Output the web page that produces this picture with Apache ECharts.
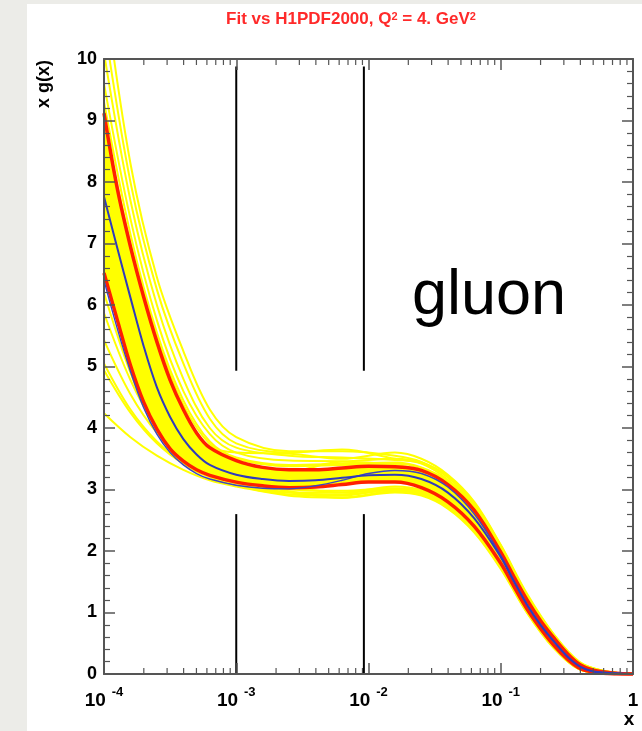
<!DOCTYPE html>
<html><head><meta charset="utf-8">
<script src="https://cdn.jsdelivr.net/npm/echarts@6/dist/echarts.min.js"></script>
<style>html,body{margin:0;padding:0;background:#fff}#c{width:642px;height:731px}</style>
</head><body><div id="c"></div>
<script>
// x positions are log10(x)
const log10x = [-4, -3.9, -3.8, -3.7, -3.6, -3.5, -3.4, -3.3, -3.2, -3.0, -2.8, -2.6, -2.4, -2.2, -2.0, -1.8, -1.6, -1.4, -1.2, -1.0, -0.9, -0.8, -0.7, -0.6, -0.5, -0.4, -0.3, -0.2, -0.1, 0];
const centralFit = [7.76, 6.93, 6.12, 5.33, 4.66, 4.18, 3.82, 3.57, 3.40, 3.24, 3.17, 3.14, 3.15, 3.19, 3.23, 3.24, 3.17, 2.95, 2.53, 1.90, 1.50, 1.12, 0.80, 0.53, 0.29, 0.12, 0.04, 0.02, 0.01, 0];
const errUpper   = [9.12, 7.90, 6.95, 6.13, 5.40, 4.78, 4.30, 3.92, 3.68, 3.47, 3.36, 3.32, 3.32, 3.35, 3.38, 3.37, 3.31, 3.08, 2.66, 1.98, 1.58, 1.20, 0.87, 0.59, 0.34, 0.15, 0.06, 0.03, 0.01, 0];
const errLower   = [6.52, 5.76, 5.02, 4.42, 3.98, 3.66, 3.46, 3.32, 3.23, 3.12, 3.06, 3.03, 3.04, 3.08, 3.12, 3.12, 3.03, 2.80, 2.40, 1.80, 1.42, 1.05, 0.74, 0.47, 0.25, 0.09, 0.03, 0.01, 0, 0];
const h1pdf2000  = [6.40, 5.62, 4.92, 4.33, 3.90, 3.60, 3.40, 3.26, 3.17, 3.07, 3.02, 3.01, 3.06, 3.15, 3.26, 3.31, 3.26, 3.04, 2.60, 1.93, 1.52, 1.13, 0.81, 0.54, 0.30, 0.12, 0.04, 0.02, 0.01, 0];

// replica curves (yellow)
const replicaLog10x = [-4, -3.8, -3.6, -3.4, -3.2, -3.0, -2.6, -2.2, -1.8, -1.6, -1.4, -1.2, -1.0, -0.8, -0.6, -0.4, -0.2, 0];
const repA1 = [11.2, 8.3, 6.45, 5.25, 4.3, 3.85, 3.62, 3.62, 3.55, 3.45, 3.2, 2.76, 2.07, 1.27, 0.64, 0.18, 0.04, 0];
const repA2 = [10.6, 8.0, 6.25, 5.05, 4.15, 3.75, 3.6, 3.65, 3.5, 3.42, 3.16, 2.74, 2.05, 1.25, 0.63, 0.17, 0.04, 0];
const repA3 = [10.1, 7.7, 6.0, 4.8, 4.0, 3.68, 3.55, 3.52, 3.48, 3.43, 3.2, 2.77, 2.08, 1.28, 0.64, 0.18, 0.04, 0];
const repA4 = [9.6, 7.4, 5.75, 4.6, 3.9, 3.6, 3.47, 3.46, 3.5, 3.44, 3.22, 2.78, 2.09, 1.26, 0.62, 0.16, 0.03, 0];
const repA5 = [9.3, 7.15, 5.55, 4.45, 3.78, 3.52, 3.4, 3.42, 3.44, 3.36, 3.14, 2.72, 2.03, 1.24, 0.61, 0.16, 0.03, 0];
const repA6 = [9.0, 7.0, 5.48, 4.38, 3.74, 3.5, 3.38, 3.4, 3.42, 3.35, 3.12, 2.7, 2.02, 1.23, 0.6, 0.16, 0.03, 0];
const repC1 = [8.5, 6.6, 5.1, 4.1, 3.7, 3.6, 3.58, 3.5, 3.6, 3.5, 3.24, 2.8, 2.1, 1.3, 0.65, 0.19, 0.04, 0];
const repC2 = [7.0, 5.6, 4.4, 3.7, 3.35, 3.18, 3.05, 2.95, 3.0, 2.95, 2.74, 2.36, 1.76, 1.02, 0.45, 0.08, 0.01, 0];
const repD1 = [8.0, 6.3, 4.9, 3.95, 3.5, 3.35, 3.3, 3.45, 3.4, 3.3, 3.05, 2.6, 1.95, 1.16, 0.56, 0.13, 0.02, 0];
const repD2 = [7.3, 5.75, 4.45, 3.7, 3.35, 3.2, 3.12, 3.1, 3.2, 3.15, 2.92, 2.5, 1.86, 1.09, 0.5, 0.1, 0.02, 0];
const repB1 = [4.24, 3.85, 3.55, 3.32, 3.15, 3.05, 2.9, 2.87, 2.97, 2.92, 2.7, 2.32, 1.73, 1.0, 0.43, 0.07, 0.01, 0];
const repB2 = [4.94, 4.25, 3.75, 3.42, 3.22, 3.1, 2.95, 2.92, 2.99, 2.94, 2.73, 2.35, 1.75, 1.01, 0.44, 0.08, 0.01, 0];
const repB3 = [5.05, 4.3, 3.78, 3.44, 3.24, 3.12, 2.97, 2.86, 2.95, 2.9, 2.69, 2.3, 1.71, 0.99, 0.42, 0.07, 0.01, 0];
const repB4 = [5.43, 4.55, 3.92, 3.5, 3.28, 3.15, 3.0, 2.98, 3.02, 2.97, 2.76, 2.37, 1.77, 1.03, 0.45, 0.08, 0.01, 0];
const repB5 = [5.87, 4.78, 4.0, 3.52, 3.26, 3.1, 2.95, 2.95, 3.05, 2.99, 2.78, 2.39, 1.78, 1.04, 0.46, 0.08, 0.01, 0];
const repB6 = [6.2, 4.9, 3.95, 3.42, 3.2, 3.06, 2.92, 2.9, 3.0, 2.95, 2.74, 2.34, 1.74, 1.0, 0.44, 0.07, 0.01, 0];
const replicas = [repA1, repA2, repA3, repA4, repA5, repA6, repC1, repC2, repD1, repD2, repB1, repB2, repB3, repB4, repB5, repB6];

// vertical marker lines (log10 x, and y spans)
const markerX = [-3, -2.035];
const markerUpperSpan = [9.88, 4.93];
const markerLowerSpan = [2.6, 0];

const xDecades = [-4, -3, -2, -1];
const xMinorMultipliers = [2, 3, 4, 5, 6, 7, 8, 9];

const FONT = '"Liberation Sans", Arial, Helvetica, sans-serif';
const AX = '#555555';
const pair = (xs, ys) => xs.map((x, i) => [x, ys[i]]);
const SMOOTH = 0.35;

const minorTickData = [];
xDecades.forEach(d => xMinorMultipliers.forEach(m => minorTickData.push([d + Math.log10(m), 0])));

const series = [];
// error band: yellow area under upper edge, then white area under lower edge
series.push({
  type: 'line', data: pair(log10x, errUpper), smooth: SMOOTH, symbol: 'none', silent: true, z: 1,
  lineStyle: { opacity: 0, width: 0 }, areaStyle: { color: '#ffff00', opacity: 1, origin: 'start' }
});
series.push({
  type: 'line', data: pair(log10x, errLower), smooth: SMOOTH, symbol: 'none', silent: true, z: 1,
  lineStyle: { opacity: 0, width: 0 }, areaStyle: { color: '#ffffff', opacity: 1, origin: 'start' }
});
replicas.forEach(r => series.push({
  type: 'line', data: pair(replicaLog10x, r), smooth: SMOOTH, symbol: 'none', silent: true, z: 2,
  lineStyle: { color: '#ffff00', width: 2 }
}));
[errUpper, errLower].forEach(d => series.push({
  type: 'line', data: pair(log10x, d), smooth: SMOOTH, symbol: 'none', silent: true, z: 4,
  lineStyle: { color: '#ff2000', width: 3.5 }
}));
series.push({
  type: 'line', data: pair(log10x, h1pdf2000), smooth: SMOOTH, symbol: 'none', silent: true, z: 5,
  lineStyle: { color: '#3a44c4', width: 1.4 }
});
series.push({
  type: 'line', data: pair(log10x, centralFit), smooth: SMOOTH, symbol: 'none', silent: true, z: 5,
  lineStyle: { color: '#2f3bbd', width: 2 }
});
series.push({
  type: 'custom', data: minorTickData, silent: true, z: 6, clip: false,
  renderItem: (params, api) => {
    const x = api.value(0);
    const pb = api.coord([x, 0]);
    const pt = api.coord([x, 10]);
    const st = { stroke: AX, lineWidth: 1.2 };
    return { type: 'group', children: [
      { type: 'line', shape: { x1: pb[0], y1: pb[1], x2: pb[0], y2: pb[1] - 6 }, style: st },
      { type: 'line', shape: { x1: pt[0], y1: pt[1], x2: pt[0], y2: pt[1] + 6 }, style: st }
    ]};
  }
});
markerX.forEach(mx => {
  [markerUpperSpan, markerLowerSpan].forEach(span => series.push({
    type: 'line', data: span.map(v => [mx, v]), symbol: 'none', silent: true, z: 7,
    lineStyle: { color: '#000', width: 2 }
  }));
});

const axisLineStyle = { color: AX, width: 2 };
const xBase = {
  type: 'value', min: -4, max: 0, interval: 1, splitLine: { show: false }, z: 10,
  axisLine: { show: true, onZero: false, lineStyle: axisLineStyle },
  axisTick: { show: true, inside: true, length: 11, lineStyle: { color: AX, width: 1.5 } }
};
const yBase = {
  type: 'value', min: 0, max: 10, interval: 1, splitLine: { show: false }, z: 10,
  axisLine: { show: true, onZero: false, lineStyle: axisLineStyle },
  axisTick: { show: true, inside: true, length: 11, lineStyle: { color: AX, width: 1.5 } },
  minorTick: { show: true, splitNumber: 5, length: 6, lineStyle: { color: AX, width: 1.2 } }
};

const option = {
  animation: false,
  backgroundColor: '#ffffff',
  grid: { left: 104, top: 59, right: 9, bottom: 57, containLabel: false },
  xAxis: [
    Object.assign({}, xBase, {
      position: 'bottom',
      axisLabel: {
        margin: 12, color: '#000',
        formatter: v => v === 0 ? '{b|1}' : '{b|10}{s|' + v + '}',
        rich: {
          b: { fontFamily: FONT, fontWeight: 'bold', fontSize: 19, color: '#000', lineHeight: 24, verticalAlign: 'bottom' },
          s: { fontFamily: FONT, fontWeight: 'bold', fontSize: 13, color: '#000', verticalAlign: 'top', padding: [0, 0, 0, 6] }
        }
      }
    }),
    Object.assign({}, xBase, { position: 'top', axisLabel: { show: false } })
  ],
  yAxis: [
    Object.assign({}, yBase, {
      position: 'left',
      axisLabel: { margin: 7, color: '#000', fontFamily: FONT, fontWeight: 'bold', fontSize: 18 }
    }),
    Object.assign({}, yBase, { position: 'right', axisLabel: { show: false } })
  ],
  graphic: [
    { type: 'rect', z: -10, shape: { x: 0, y: 0, width: 27, height: 731 }, style: { fill: '#ecece8' } },
    { type: 'rect', z: -10, shape: { x: 0, y: 0, width: 642, height: 4 }, style: { fill: '#ecece8' } },
    { type: 'text', x: 351, y: 28, style: {
        text: '{a|Fit vs H1PDF2000, Q}{s|2}{a| = 4. GeV}{s|2}', textAlign: 'center', textVerticalAlign: 'bottom',
        rich: {
          a: { fontFamily: FONT, fontWeight: 'bold', fontSize: 17, fill: '#ff2a2a', verticalAlign: 'bottom' },
          s: { fontFamily: FONT, fontWeight: 'bold', fontSize: 11, fill: '#ff2a2a', verticalAlign: 'top' }
        } } },
    { type: 'text', x: 412, y: 297, style: { text: 'gluon', fontFamily: FONT, fontSize: 63, fill: '#000', textAlign: 'left', textVerticalAlign: 'middle' } },
    { type: 'text', x: 629, y: 720, style: { text: 'x', fontFamily: FONT, fontWeight: 'bold', fontSize: 19, fill: '#000', textAlign: 'center', textVerticalAlign: 'middle' } },
    { type: 'text', x: 44, y: 60, rotation: Math.PI / 2, style: { text: 'x g(x)', fontFamily: FONT, fontWeight: 'bold', fontSize: 18, fill: '#000', textAlign: 'right', textVerticalAlign: 'middle' } }
  ],
  series
};

const chart = echarts.init(document.getElementById('c'), null, { renderer: 'canvas' });
chart.setOption(option);
</script>
</body></html>
